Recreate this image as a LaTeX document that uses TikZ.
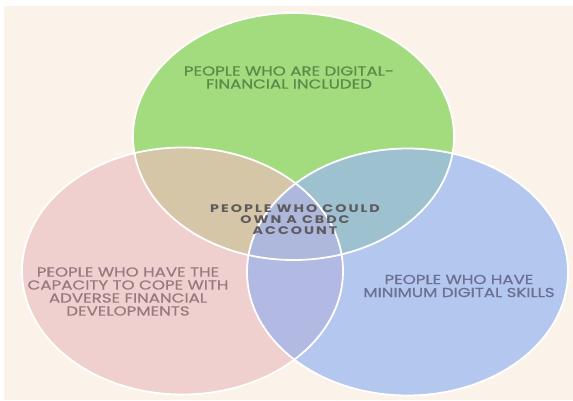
\documentclass[tikz,border=0pt]{standalone}
\usepackage{fontspec}
\setmainfont{Poppins}
\definecolor{bgc}{HTML}{FBF3EA}
\definecolor{pinkc}{HTML}{F0D0CF}
\definecolor{bluec}{HTML}{B4C7EF}
\definecolor{greenc}{HTML}{A3DC7F}
\definecolor{pgc}{HTML}{D5C6A8}
\definecolor{gbc}{HTML}{9DC1CF}
\definecolor{pbc}{HTML}{B2B9E3}
\definecolor{tric}{HTML}{AEB7DC}
\definecolor{gtext}{HTML}{5A8A48}
\definecolor{ptext}{HTML}{977980}
\definecolor{btext}{HTML}{697092}
\definecolor{ctext}{HTML}{5E5B5E}
\tikzset{
  lbl/.style={align=center, inner sep=0pt, xscale=1.28,
    font=\fontsize{13}{13}\selectfont\addfontfeatures{FakeBold=0.6}},
  ctr/.style={align=center, inner sep=0pt, text=ctext, xscale=1.3,
    font=\fontsize{11}{11}\selectfont\bfseries\addfontfeatures{LetterSpace=14}},
  rim/.style={draw=white, line width=1.8pt}
}
\begin{document}
\begin{tikzpicture}[x=1pt,y=-1pt]
\fill[white] (0,0) rectangle (573,400);
\fill[bgc] (4,6) rectangle (573,400);
\useasboundingbox (0,0) rectangle (573,400);
\def\G{(293.5,136.5) ellipse [x radius=160.5pt, y radius=123.5pt]}
\def\P{(182.5,271) ellipse [x radius=160.5pt, y radius=123.5pt]}
\def\B{(407.5,272) ellipse [x radius=160.5pt, y radius=123.5pt]}
\fill[pinkc] \P;
\fill[bluec] \B;
\begin{scope}
  \clip \P;
  \fill[pbc] \B;
\end{scope}
\fill[greenc] \G;
\begin{scope}
  \clip \G;
  \fill[pgc] \P;
  \fill[gbc] \B;
  \clip \P;
  \fill[tric] \B;
\end{scope}
\draw[rim] \G;
\draw[rim] \P;
\draw[rim] \B;
\node[lbl, text=gtext] (green) at (289,77.5) {PEOPLE WHO ARE DIGITAL-\\FINANCIAL INCLUDED};
\node[lbl, text=ptext] (pink) at (128,291.5) {PEOPLE WHO HAVE THE\\CAPACITY TO COPE WITH\\ADVERSE FINANCIAL\\DEVELOPMENTS};
\node[lbl, text=btext] (blue) at (459,286) {PEOPLE WHO HAVE\\MINIMUM DIGITAL SKILLS};
\node[ctr] (center) at (295,220) {PEOPLE WHO COULD\\OWN A CBDC\\ACCOUNT};
\end{tikzpicture}
\end{document}
